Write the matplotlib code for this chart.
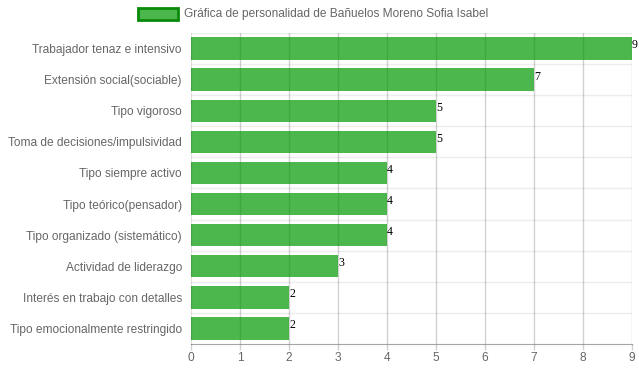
import matplotlib
matplotlib.use("Agg")
import matplotlib.pyplot as plt
from matplotlib.patches import Rectangle

categories = [
    "Trabajador tenaz e intensivo",
    "Extensión social(sociable)",
    "Tipo vigoroso",
    "Toma de decisiones/impulsividad",
    "Tipo siempre activo",
    "Tipo teórico(pensador)",
    "Tipo organizado (sistemático)",
    "Actividad de liderazgo",
    "Interés en trabajo con detalles",
    "Tipo emocionalmente restringido",
]
values = [9, 7, 5, 5, 4, 4, 4, 3, 2, 2]
series_label = "Gráfica de personalidad de Bañuelos Moreno Sofia Isabel"
xticks = [0, 1, 2, 3, 4, 5, 6, 7, 8, 9]

W, H = 639, 372
fig = plt.figure(figsize=(W / 100, H / 100), dpi=100)
ax = fig.add_axes([191 / W, 1 - 344 / H, (632 - 191) / W, (344 - 33) / H])

n = len(categories)
ypos = list(range(n))
bar_color = (0.0, 0.6, 0.0, 0.7)
ax.barh(ypos, values, height=0.72, color=bar_color, zorder=2)

ax.set_xlim(0, 9)
ax.set_ylim(n - 0.5, -0.5)
ax.set_xticks(xticks)
ax.set_xticklabels([str(t) for t in xticks])
ax.set_yticks(ypos)
ax.set_yticklabels(categories)

fs = 8.6
# gridlines
for t in xticks[1:]:
    ax.axvline(t, color=(0, 0, 0, 0.18), lw=1, zorder=1)
for k in range(n):
    ax.axhline(k - 0.5, color=(0, 0, 0, 0.07), lw=1, zorder=1)

for s in ["top", "right"]:
    ax.spines[s].set_visible(False)
ax.spines["left"].set_color((0, 0, 0, 0.12))
ax.spines["bottom"].set_color((0, 0, 0, 0.35))
ax.tick_params(axis="y", length=0, pad=6.5, labelsize=fs, labelcolor="#666666")
ax.tick_params(axis="x", length=4, width=1, color=(0, 0, 0, 0.18), pad=2,
               labelsize=fs, labelcolor="#666666")
for lbl in ax.get_xticklabels() + ax.get_yticklabels():
    lbl.set_fontfamily("Liberation Sans")

for y, v in zip(ypos, values):
    ax.text(v, y - 0.1, str(v), ha="left", va="center", fontsize=fs,
            family="Liberation Serif", color="black", zorder=3)

# legend
fig.patches.append(Rectangle((138 / W, 1 - 20 / H), 40 / W, 12 / H,
                             transform=fig.transFigure, facecolor=bar_color,
                             edgecolor="#0a8a0a", lw=2))
fig.text(184 / W, 1 - 14 / H, series_label, ha="left", va="center", fontsize=fs,
         family="Liberation Sans", color="#666666")

fig.savefig("out.png", dpi=100)
